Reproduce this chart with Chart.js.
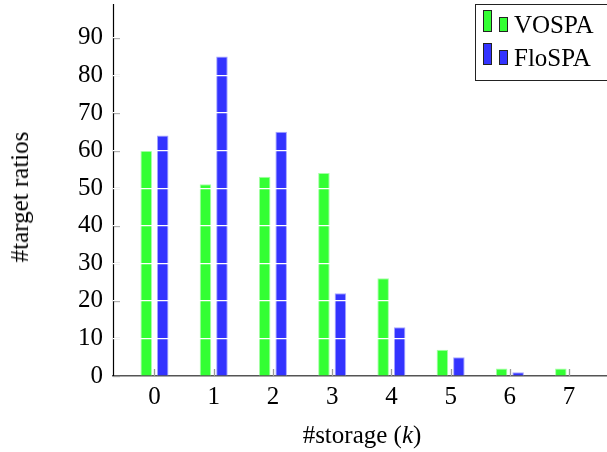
<!DOCTYPE html>
<html>
<head>
<meta charset="utf-8">
<script src="https://cdn.jsdelivr.net/npm/chart.js@4/dist/chart.umd.min.js"></script>
<style>
  html, body { margin: 0; padding: 0; background: #fff; }
  #wrap { position: relative; width: 607px; height: 452px; overflow: hidden; }
  canvas { position: absolute; left: 0; top: 0; }
  .ttl { position: absolute; font-family: "Liberation Serif", "DejaVu Serif", serif; font-size: 25px; color: #000; white-space: nowrap; }
  #xt { left: 362px; top: 421px; transform: translateX(-50%); }
  #yt { left: 20px; top: 197px; transform: translate(-50%, -50%) rotate(-90deg); }
</style>
</head>
<body>
<div id="wrap">
  <canvas id="c" width="607" height="452"></canvas>
  <div class="ttl" id="xt">#storage (<i>k</i>)</div>
  <div class="ttl" id="yt">#target ratios</div>
</div>
<script>
const categories = [0, 1, 2, 3, 4, 5, 6, 7];
const vospa = [60, 51, 53, 54, 26, 7, 2, 2];
const flospa = [64, 85, 65, 22, 13, 5, 1, 0];
const yTicks = [0, 10, 20, 30, 40, 50, 60, 70, 80, 90];

const GREEN = '#33ff33';
const BLUE = '#3333ff';
const FONT = '"Liberation Serif", "DejaVu Serif", serif';

const tickMarks = {
  id: 'tickMarks',
  afterDatasetsDraw(chart) {
    const ctx = chart.ctx;
    const x = chart.scales.x, y = chart.scales.y;
    const a = chart.chartArea;
    ctx.save();
    ctx.strokeStyle = '#999';
    ctx.lineWidth = 1.3;
    yTicks.forEach(v => {
      const py = Math.round(y.getPixelForValue(v)) + 0.5;
      ctx.beginPath(); ctx.moveTo(a.left, py); ctx.lineTo(a.left + 7, py); ctx.stroke();
    });
    categories.forEach(c => {
      const px = Math.round(x.getPixelForValue(c)) + 0.5;
      ctx.beginPath(); ctx.moveTo(px, a.bottom); ctx.lineTo(px, a.bottom - 7); ctx.stroke();
    });
    // left axis line
    ctx.strokeStyle = '#000';
    ctx.lineWidth = 1.2;
    const lx = Math.round(a.left) + 0.5;
    ctx.beginPath(); ctx.moveTo(lx, a.top); ctx.lineTo(lx, a.bottom); ctx.stroke();
    ctx.restore();
  }
};

const pgfLegend = {
  id: 'pgfLegend',
  afterDraw(chart) {
    const ctx = chart.ctx;
    ctx.save();
    ctx.fillStyle = '#fff';
    ctx.fillRect(475.5, 4.5, 140, 76);
    ctx.strokeStyle = '#222';
    ctx.lineWidth = 1;
    ctx.strokeRect(475.5, 4.5, 140, 76);
    chart.data.datasets.forEach((ds, i) => {
      const oy = i * 33;
      ctx.fillStyle = ds.backgroundColor;
      ctx.strokeStyle = '#222';
      ctx.fillRect(483.5, 10.5 + oy, 8, 21);
      ctx.strokeRect(483.5, 10.5 + oy, 8, 21);
      ctx.fillRect(499.5, 17.5 + oy, 8, 14);
      ctx.strokeRect(499.5, 17.5 + oy, 8, 14);
      ctx.fillStyle = '#000';
      ctx.font = '25px ' + FONT;
      ctx.textBaseline = 'alphabetic';
      ctx.textAlign = 'left';
      ctx.fillText(ds.label, 514, 32.5 + oy);
    });
    ctx.restore();
  }
};

new Chart(document.getElementById('c'), {
  type: 'bar',
  data: {
    datasets: [
      { label: 'VOSPA', data: categories.map((c, i) => ({ x: c, y: vospa[i] })),
        backgroundColor: GREEN, borderColor: '#a6ffa6', borderWidth: 1 },
      { label: 'FloSPA', data: categories.map((c, i) => ({ x: c, y: flospa[i] })),
        backgroundColor: BLUE, borderColor: '#a6a6ff', borderWidth: 1 }
    ]
  },
  options: {
    responsive: false,
    animation: false,
    devicePixelRatio: 1,
    categoryPercentage: 0.557,
    barPercentage: 0.70,
    layout: { padding: { top: 4, right: 0, left: 0, bottom: 0 } },
    plugins: { legend: { display: false }, tooltip: { enabled: false } },
    scales: {
      x: {
        type: 'linear',
        offset: false,
        min: -0.70,
        max: 7.64,
        afterFit: s => { s.height = 76; s.paddingLeft = 0; s.paddingRight = 0; },
        afterBuildTicks: s => { s.ticks = categories.map(v => ({ value: v })); },
        ticks: { font: { family: FONT, size: 25 }, color: '#000', padding: 6, maxRotation: 0 },
        grid: { display: false, drawTicks: false, offset: false },
        border: { color: '#555', width: 1.5 }
      },
      y: {
        min: 0,
        max: 99,
        afterFit: s => { s.width = 113; s.paddingTop = 0; s.paddingBottom = 0; },
        afterBuildTicks: s => { s.ticks = yTicks.map(v => ({ value: v })); },
        ticks: { font: { family: FONT, size: 25 }, color: '#000', padding: 10 },
        grid: {
          z: 1,
          drawTicks: false,
          lineWidth: 1.2,
          color: c => (c.tick && c.tick.value === 0) ? 'rgba(0,0,0,0)' : '#ffffff'
        },
        border: { display: false }
      }
    }
  },
  plugins: [tickMarks, pgfLegend]
});
</script>
</body>
</html>
